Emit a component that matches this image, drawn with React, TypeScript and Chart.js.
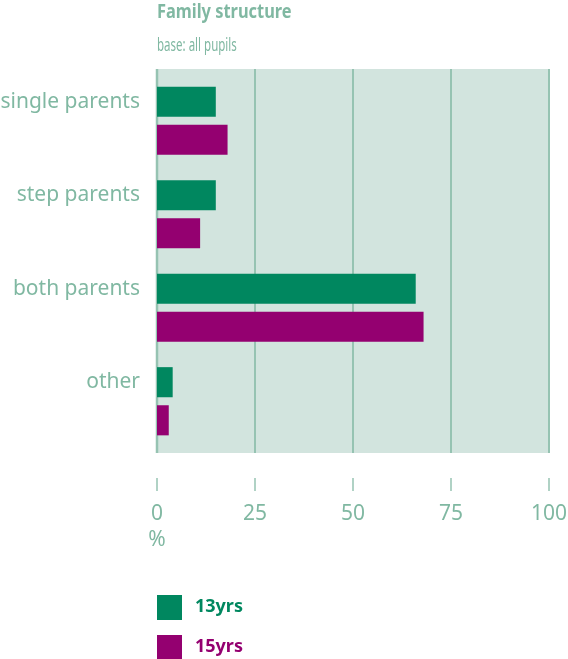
import React, { useEffect, useRef } from "react";
import { Chart, registerables } from "chart.js";

Chart.register(...registerables);

const categories = ["single parents", "step parents", "both parents", "other"];
const series13 = [15, 15, 66, 4];
const series15 = [18, 11, 68, 3];
const seriesNames = ["13yrs", "15yrs"];
const xTicks = [0, 25, 50, 75, 100];
const titleText = "Family structure";
const subtitleText = "base: all pupils";
const unitText = "%";

const GREEN = "#00875f";
const PURPLE = "#940070";
const TEXT = "#80b8a2";
const BG = "#d2e4de";
const GRID = "#96c3b2";
const FONT = "'Noto Sans', 'Open Sans', sans-serif";

function condensedText(ctx: any, text: string, x: number, y: number, sx: number) {
  ctx.save();
  ctx.translate(x, y);
  ctx.scale(sx, 1);
  ctx.fillText(text, 0, 0);
  ctx.restore();
}

const decorPlugin = {
  id: "decor",
  beforeDatasetsDraw(chart: any) {
    const { ctx, chartArea } = chart;
    const x = chart.scales.x;
    const x0 = x.getPixelForValue(0);
    const x100 = x.getPixelForValue(100);
    const top = chartArea.top - 5;
    const bottom = chartArea.bottom + 5;
    ctx.save();
    ctx.fillStyle = BG;
    ctx.fillRect(x0, top, x100 - x0 + 1, bottom - top);
    ctx.strokeStyle = GRID;
    ctx.lineWidth = 2;
    xTicks.forEach((v) => {
      const px = Math.round(x.getPixelForValue(v));
      ctx.lineWidth = v === 0 ? 2.5 : 2;
      ctx.beginPath();
      ctx.moveTo(px, top);
      ctx.lineTo(px, bottom);
      ctx.stroke();
    });
    ctx.restore();
  },
  afterDraw(chart: any) {
    const { ctx, chartArea } = chart;
    const x = chart.scales.x;
    const left = x.getPixelForValue(0);
    ctx.save();
    // title
    ctx.textBaseline = "middle";
    ctx.textAlign = "left";
    ctx.fillStyle = TEXT;
    ctx.font = `bold 20px ${FONT}`;
    condensedText(ctx, titleText, left, 12, 0.82);
    ctx.font = `18px ${FONT}`;
    condensedText(ctx, subtitleText, left, 46, 0.64);
    // x ticks
    const tickTop = chartArea.bottom + 30;
    ctx.strokeStyle = GRID;
    ctx.lineWidth = 1.5;
    ctx.font = `21px ${FONT}`;
    ctx.textAlign = "center";
    xTicks.forEach((v) => {
      const px = Math.round(x.getPixelForValue(v));
      ctx.beginPath();
      ctx.moveTo(px, tickTop);
      ctx.lineTo(px, tickTop + 13);
      ctx.stroke();
      ctx.fillText(String(v), px, tickTop + 36);
    });
    ctx.fillText(unitText, left, tickTop + 62);
    // legend
    const colors = [GREEN, PURPLE];
    chart.data.datasets.forEach((ds: any, i: number) => {
      const y = 595 + i * 40;
      ctx.fillStyle = colors[i];
      ctx.fillRect(left, y, 25, 25);
      ctx.font = `bold 18px ${FONT}`;
      ctx.textAlign = "left";
      ctx.fillText(ds.label, left + 38, y + 12);
    });
    ctx.restore();
  },
};

export default function App() {
  const ref = useRef<HTMLCanvasElement>(null);
  useEffect(() => {
    if (!ref.current) return;
    const chart = new Chart(ref.current, {
      type: "bar",
      data: {
        labels: categories,
        datasets: [
          { label: seriesNames[0], data: series13, backgroundColor: GREEN },
          { label: seriesNames[1], data: series15, backgroundColor: PURPLE },
        ],
      },
      options: {
        indexAxis: "y",
        animation: false,
        responsive: false,
        maintainAspectRatio: false,
        categoryPercentage: 0.815,
        barPercentage: 0.79,
        layout: { padding: { top: 74, bottom: 211, right: 19, left: 0 } },
        plugins: {
          legend: { display: false },
          tooltip: { enabled: false },
        },
        scales: {
          x: { display: false, min: 0, max: 100 },
          y: {
            grid: { display: false, drawTicks: false },
            border: { display: false },
            ticks: {
              color: TEXT,
              font: { family: FONT, size: 21 },
              padding: 17,
              labelOffset: -19,
            },
            afterFit: (s: any) => {
              s.width = 157;
            },
          },
        },
      },
      plugins: [decorPlugin],
    });
    return () => chart.destroy();
  }, []);
  return (
    <div style={{ position: "fixed", left: 0, top: 0, width: 568, height: 659, background: "#fff" }}>
      <canvas ref={ref} width={568} height={659} style={{ width: 568, height: 659 }} />
    </div>
  );
}
